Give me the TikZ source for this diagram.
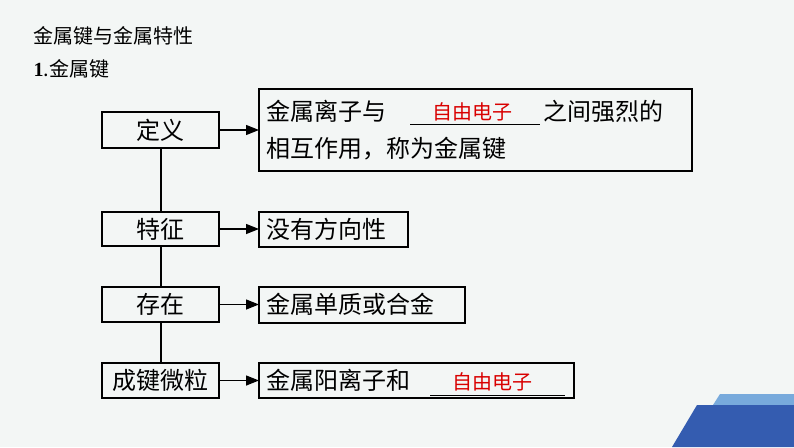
\documentclass[tikz,border=0pt]{standalone}
\usepackage{fontspec}
\setmainfont{Liberation Serif}
\newfontfamily\cjk{Noto Sans CJK SC}
\usetikzlibrary{arrows.meta}
\definecolor{bg}{RGB}{243,246,245}
\begin{document}
\begin{tikzpicture}[x=1pt,y=-1pt,
  bx/.style={draw,fill=bg,line width=1.6pt,inner sep=0pt},
  lbl/.style={font=\cjk\fontsize{24}{26}\selectfont,anchor=center},
  txt/.style={font=\cjk\fontsize{24}{32}\selectfont,anchor=west},
  arr/.style={-{Triangle[length=13pt,width=10pt]},line width=1.4pt}]
\fill[bg] (0,0) rectangle (794,447);
\useasboundingbox (0,0) rectangle (794,447);
\fill[fill={rgb,255:red,120;green,170;blue,220}] (720,394) -- (794,394) -- (794,405) -- (713,405) -- cycle;
\fill[fill={rgb,255:red,52;green,92;blue,176}] (697,405) -- (794,405) -- (794,447) -- (672,447) -- cycle;
\node[anchor=west,font=\cjk\fontsize{20}{22}\selectfont] (t1) at (30,36) {金属键与金属特性};
\node[anchor=west,font=\cjk\fontsize{20}{22}\selectfont] (t2) at (30,69) {{\fontspec{Liberation Serif}\bfseries 1}.金属键};
\coordinate (v1) at (161,148); \coordinate (v2) at (161,363);
\draw[line width=1.4pt] (v1) -- (v2);
% left boxes
\draw[bx] (102,112) rectangle (219,148); \node[lbl] (l1) at (160.5,130) {定义};
\draw[bx] (102,212) rectangle (219,246); \node[lbl] (l2) at (160.5,229) {特征};
\draw[bx] (102,287) rectangle (219,322); \node[lbl] (l3) at (160.5,304.5) {存在};
\draw[bx] (102,363) rectangle (219,398); \node[lbl] (l4) at (160.5,380.5) {成键微粒};
\coordinate (a1) at (219,130); \coordinate (a2) at (219,229);
\coordinate (a3) at (219,304.5); \coordinate (a4) at (219,380.5);
% right boxes
\draw[bx] (259,89) rectangle (692,171);
\draw[bx] (259,212) rectangle (408,247);
\draw[bx] (259,287) rectangle (465,323);
\draw[bx] (259,363) rectangle (574,398);
\coordinate (b1) at (259,130); \coordinate (b2) at (259,229);
\coordinate (b3) at (259,304.5); \coordinate (b4) at (259,380.5);
\foreach \i in {1,2,3,4} \draw[arr] (a\i) -- (b\i);
\node[txt] (r1a) at (263,111) {金属离子与};
\draw[line width=1pt] (410,124) -- (540,124);
\node[font=\cjk\fontsize{20}{22}\selectfont,text=red!85!black] (r1r) at (472,112) {自由电子};
\node[txt] (r1b) at (540,111) {之间强烈的};
\node[txt] (r1c) at (263,149) {相互作用，称为金属键};
\node[txt] (r2) at (263,229) {没有方向性};
\node[txt] (r3) at (263,304.5) {金属单质或合金};
\node[txt] (r4) at (263,380.5) {金属阳离子和};
\draw[line width=1pt] (430,395) -- (565,395);
\node[font=\cjk\fontsize{20}{22}\selectfont,text=red!85!black] (r4r) at (492,382) {自由电子};
\end{tikzpicture}
\end{document}
